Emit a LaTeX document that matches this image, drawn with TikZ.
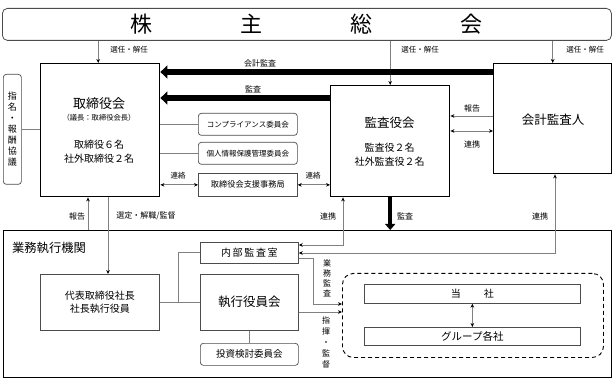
\documentclass[tikz,border=0pt]{standalone}
\usepackage{fontspec}
\setmainfont{Noto Sans CJK JP}
\usetikzlibrary{arrows.meta}
\definecolor{connc}{gray}{0.5}
\definecolor{boxc}{gray}{0.3}
\newcommand{\fs}[2]{\fontsize{#1}{#2}\selectfont}
\begin{document}
\begin{tikzpicture}[x=1pt,y=-1pt,
  box/.style={draw=boxc, line width=0.7pt, inner sep=0pt, anchor=north west},
  rbox/.style={box, rounded corners=3pt},
  bigbox/.style={draw=black, line width=1.4pt, inner sep=0pt, anchor=north west},
  txt/.style={inner sep=0pt},
  lbl/.style={inner sep=0pt, font=\fs{7.5}{9}},
  conn/.style={draw=connc, line width=0.7pt},
  tip/.tip={Stealth[length=4pt,width=3.6pt,color=black]},
  arr/.style={conn, -tip},
  darr/.style={conn, tip-tip},
  thickarr/.style={draw=black, line width=6pt, -{Triangle[length=7pt,width=13pt]}},
]
\useasboundingbox (0,0) rectangle (613,379);

% shareholders meeting
\node[box, draw=black!70, line width=0.8pt, rounded corners=5pt, minimum width=609pt, minimum height=32pt, font=\fs{22}{24}] (top) at (2,8)
  {株\hspace{88pt}主\hspace{88pt}総\hspace{88pt}会};

% left vertical box
\node[rbox, minimum width=18pt, minimum height=110pt] (nom) at (3,74) {};
\node[txt, align=center, font=\fs{9}{11}] (nomt) at (nom.center) {指\\名\\・\\報\\酬\\協\\議};

% board
\node[bigbox, minimum width=119pt, minimum height=133pt] (board) at (40,63) {};
\node[txt, font=\fs{13}{15}] (b1) at (99,104) {取締役会};
\node[txt, font=\fs{7.3}{9}] (b2) at (99,118) {（議長：取締役会長）};
\node[txt, font=\fs{10}{12}] (b3) at (99,145) {取締役６名};
\node[txt, font=\fs{10}{12}] (b4) at (99,159) {社外取締役２名};

% committees
\node[rbox, minimum width=99pt, minimum height=22pt, font=\fs{7.5}{9}] (comp) at (198,113) {コンプライアンス委員会};
\node[rbox, minimum width=99pt, minimum height=22pt, font=\fs{7.5}{9}] (priv) at (198,142) {個人情報保護管理委員会};
\node[box, minimum width=99pt, minimum height=23pt, font=\fs{8.2}{10}] (supp) at (198,173) {取締役会支援事務局};

% audit board
\node[bigbox, minimum width=119pt, minimum height=111pt] (aud) at (330,85) {};
\node[txt, font=\fs{12.5}{15}] (a1) at (389.5,123) {監査役会};
\node[txt, font=\fs{10}{12}] (a2) at (389.5,148) {監査役２名};
\node[txt, font=\fs{10}{12}] (a3) at (389.5,162) {社外監査役２名};

% accounting auditor
\node[bigbox, minimum width=118pt, minimum height=110pt, font=\fs{12.5}{15}] (acc) at (493,63) {};
\node[txt, font=\fs{12.5}{15}] (acct) at (553,120) {会計監査人};

% execution area
\node[bigbox, minimum width=608pt, minimum height=147pt] (exec) at (3,230) {};
\node[txt, font=\fs{12.3}{14}] (exect) at (49,248) {業務執行機関};

\node[box, minimum width=119pt, minimum height=56pt, align=center, font=\fs{10}{13}] (pres) at (40,274) {代表取締役社長\\社長執行役員};
\node[box, minimum width=98pt, minimum height=21pt, font=\fs{10}{12}] (naibu) at (200,242) {内\,部\,監\,査\,室};
\node[box, minimum width=98pt, minimum height=56pt, font=\fs{12.5}{15}] (yak) at (200,274) {執行役員会};
\node[rbox, minimum width=98pt, minimum height=22pt, font=\fs{9.5}{11}] (toshi) at (200,343) {投資検討委員会};

\node[box, draw=black, line width=0.9pt, dashed, dash pattern=on 4pt off 3pt, rounded corners=11pt, minimum width=261pt, minimum height=84pt] (grp) at (342,273) {};
\node[box, minimum width=216pt, minimum height=19pt, font=\fs{10}{12}] (tosha) at (364,284) {当\hspace{23pt}社};
\node[box, minimum width=216pt, minimum height=18pt, font=\fs{10.5}{12}] (gsha) at (364,327) {グループ各社};

% ---- connectors ----
\draw[arr] ([xshift=-2pt]board.north |- top.south) -- ([xshift=-2pt]board.north);
\draw[arr] (aud.north |- top.south) -- (aud.north);
\draw[arr] (acc.north |- top.south) -- (acc.north);
\node[lbl] (s1) at (129,50) {選任・解任};
\node[lbl] (s2) at (420,50) {選任・解任};
\node[lbl] (s3) at (585,50) {選任・解任};

\draw[conn] (nom.east) -- (nom.east -| board.west);

\draw[thickarr] (acc.west |- 0,72) -- (board.east |- 0,72);
\draw[thickarr] (aud.west |- 0,98) -- (board.east |- 0,98);
\node[txt, font=\fs{8}{10}] (l1) at (260,63) {会計監査};
\node[txt, font=\fs{8}{10}] (l2) at (253,89) {監査};

\draw[conn] (board.east |- comp.west) -- (comp.west);
\draw[conn] (board.east |- priv.west) -- (priv.west);
\draw[darr] (board.east |- supp.west) -- (supp.west);
\draw[darr] (supp.east) -- (aud.west |- supp.east);
\node[lbl] (r1) at (178,176) {連絡};
\node[lbl] (r2) at (313,176) {連絡};

\draw[arr] (acc.west |- 0,116) -- (aud.east |- 0,116);
\draw[darr] (acc.west |- 0,131) -- (aud.east |- 0,131);
\node[lbl, font=\fs{8}{10}] (h1) at (472,108) {報告};
\node[lbl, font=\fs{8}{10}] (h2) at (472,144) {連携};

\draw[draw=black, line width=4.5pt, -{Triangle[length=6pt,width=10pt]}] (aud.south) -- (aud.south |- exec.north);
\node[lbl, font=\fs{8}{10}] (k1) at (405,216) {監査};

\draw[darr] (aud.south -| 343,0) |- (naibu.east |- 0,245);
\node[lbl, font=\fs{8}{10}] (k2) at (328,216) {連携};
\draw[darr] (acc.south -| 555,0) |- (naibu.east |- 0,253);
\node[lbl, font=\fs{8}{10}] (k3) at (540,216) {連携};

\draw[arr] (exec.north -| 88,0) -- (board.south -| 88,0);
\node[lbl, font=\fs{8}{10}] (k4) at (77,216) {報告};
\draw[arr] (board.south -| 108,0) -- (pres.north -| 108,0);
\node[lbl, font=\fs{8}{10}] (k5) at (146,216) {選定・解職/監督};

\draw[conn] (pres.east) -- (yak.west);
\coordinate (br) at (178,302);
\draw[conn] (br) |- (naibu.west);
\draw[conn] (yak.south) -- (toshi.north);

\coordinate (c1) at (313,258);
\coordinate (c2) at (313,304);
\draw[arr] (naibu.east |- c1) -- (c1) -- (c2) -- (grp.west |- c2);
\draw[arr] (yak.east |- 0,312) -- (grp.west |- 0,312);
\node[txt, align=center, font=\fs{8}{10}] (v1) at (327,278) {業\\務\\監\\査};
\node[txt, align=center, font=\fs{8}{11}] (v2) at (326,342) {指\\揮\\・\\監\\督};

\draw[darr] (tosha.south) -- (gsha.north);
\end{tikzpicture}
\end{document}
